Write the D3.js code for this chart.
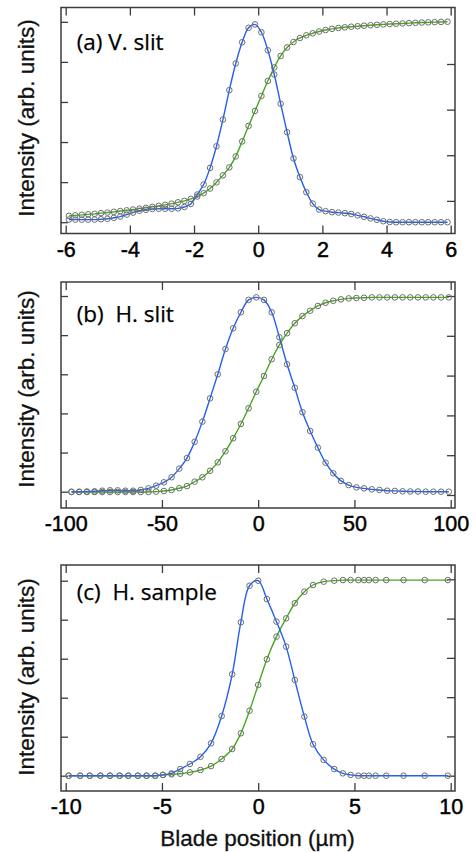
<!DOCTYPE html>
<html>
<head>
<meta charset="utf-8">
<script src="https://cdn.jsdelivr.net/npm/d3@7"></script>
<style>
  body { margin: 0; background: #fff; }
  .tick text { font-family: "Liberation Sans", Arial, sans-serif; }
</style>
</head>
<body>
<svg id="chart" width="476" height="852"></svg>
<script>
// (a) V. slit -- blade position in um, blue = derivative (left axis), green = integrated (right axis)
const xA = [-5.9, -5.7, -5.5, -5.3, -5.1, -4.9, -4.7, -4.5, -4.3, -4.1,
  -3.9, -3.7, -3.5, -3.3, -3.1, -2.9, -2.7, -2.5, -2.3, -2.1,
  -1.9, -1.7, -1.5, -1.3, -1.1, -0.9, -0.7, -0.5, -0.3, -0.1,
  0.1, 0.3, 0.5, 0.7, 0.9, 1.1, 1.3, 1.5, 1.7, 1.9,
  2.1, 2.3, 2.5, 2.7, 2.9, 3.1, 3.3, 3.5, 3.7, 3.9,
  4.1, 4.3, 4.5, 4.7, 4.9, 5.1, 5.3, 5.5, 5.7, 5.9]
const blueA = [0.013, 0.013, 0.013, 0.013, 0.013, 0.015, 0.017, 0.022, 0.028, 0.038,
  0.048, 0.057, 0.062, 0.066, 0.067, 0.067, 0.067, 0.069, 0.076, 0.091,
  0.138, 0.188, 0.271, 0.379, 0.512, 0.659, 0.792, 0.898, 0.970, 0.987,
  0.948, 0.858, 0.737, 0.591, 0.449, 0.318, 0.225, 0.150, 0.093, 0.063,
  0.055, 0.050, 0.048, 0.045, 0.041, 0.034, 0.027, 0.019, 0.012, 0.005,
  0.001, 0, 0, 0, 0, 0, 0, 0, 0, 0]
const greenA = [0.672, 0.683, 0.694, 0.705, 0.716, 0.731, 0.744, 0.760, 0.777, 0.793,
  0.810, 0.830, 0.847, 0.869, 0.891, 0.913, 0.939, 0.968, 1.001, 1.044,
  1.095, 1.169, 1.270, 1.406, 1.559, 1.734, 1.975, 2.303, 2.643, 2.971,
  3.300, 3.628, 3.924, 4.176, 4.362, 4.482, 4.570, 4.629, 4.673, 4.712,
  4.745, 4.771, 4.789, 4.804, 4.817, 4.828, 4.839, 4.850, 4.859, 4.868,
  4.876, 4.883, 4.889, 4.896, 4.903, 4.909, 4.913, 4.918, 4.922, 4.927]

// (b) H. slit
const xB = [-97, -93, -89, -85, -81, -77, -73, -69, -65, -61,
  -57, -53, -49, -45, -41, -37, -33, -29, -25, -21,
  -17, -13, -9, -5, -1, 3, 7, 11, 15, 19,
  23, 27, 31, 35, 39, 43, 47, 51, 55, 59,
  63, 67, 71, 75, 79, 83, 87, 91, 95, 99]
const blueB = [0, 0, 0.001, 0.002, 0.005, 0.007, 0.007, 0.005, 0.005, 0.009,
  0.017, 0.031, 0.048, 0.074, 0.118, 0.172, 0.255, 0.358, 0.477, 0.600,
  0.729, 0.835, 0.917, 0.980, 0.993, 0.980, 0.917, 0.789, 0.651, 0.531,
  0.406, 0.310, 0.225, 0.148, 0.094, 0.055, 0.034, 0.022, 0.017, 0.012,
  0.009, 0.005, 0.004, 0.002, 0.001, 0.001, 0, 0, 0, 0]
const greenB = [0.015, 0.015, 0.015, 0.015, 0.015, 0.015, 0.015, 0.015, 0.015, 0.015,
  0.015, 0.017, 0.020, 0.025, 0.034, 0.045, 0.067, 0.089, 0.122, 0.164,
  0.220, 0.285, 0.357, 0.436, 0.519, 0.598, 0.682, 0.754, 0.813, 0.863,
  0.899, 0.926, 0.950, 0.966, 0.976, 0.983, 0.988, 0.990, 0.991, 0.993,
  0.993, 0.993, 0.993, 0.993, 0.993, 0.993, 0.993, 0.993, 0.993, 0.993]

// (c) H. sample
const xC = [-9.85, -9.25, -8.75, -8.2, -7.7, -7.2, -6.75, -6.25, -5.8, -5.35,
  -4.95, -4.5, -4.05, -3.55, -3.0, -2.45, -1.9, -1.35, -0.9, -0.45,
  0.0, 0.45, 0.95, 1.45, 1.9, 2.4, 2.85, 3.4, 3.95, 4.4,
  4.8, 5.2, 5.5, 5.75, 6.1, 6.65, 7.55, 8.65, 9.85]
const blueC = [0, 0, 0, 0, 0, 0, 0, 0, 0, 0,
  0.004, 0.012, 0.034, 0.060, 0.097, 0.166, 0.306, 0.520, 0.787, 0.974,
  1.0, 0.906, 0.790, 0.662, 0.491, 0.303, 0.161, 0.081, 0.034, 0.012,
  0.004, 0, 0, 0, 0, 0, 0, 0, 0]
const greenC = [0, 0, 0, 0, 0, 0, 0, 0, 0, 0,
  0.004, 0.007, 0.010, 0.017, 0.029, 0.049, 0.085, 0.136, 0.216, 0.331,
  0.462, 0.593, 0.708, 0.801, 0.878, 0.937, 0.971, 0.988, 0.993, 0.996,
  0.996, 0.996, 0.996, 0.996, 0.996, 0.996, 0.996, 0.996, 0.996]

const xTicksA = [-6, -4, -2, 0, 2, 4, 6]
const xTicksB = [-100, -50, 0, 50, 100]
const xTicksC = [-10, -5, 0, 5, 10]
const leftTicks = [0, 0.2, 0.4, 0.6, 0.8, 1]

const BLUE = '#2160f2'
const GREEN = '#46a81e'
const INK = '#3c3c3c'

const svg = d3.select('#chart')
const left = 61
const width = 394
const height = 226

const panels = [
  { label: '(a) V. slit', x: xA, blue: blueA, green: greenA, xDomain: [-6, 6], xTicks: xTicksA,
    top: 7.5, yLeft: [214.7, 14.3], yRight: { domain: [0, 4], range: [239, 56.5], ticks: [1, 2, 3, 4] },
    labelY: 42.5, tickPad: 8.5, titleY: 118 },
  { label: '(b)  H. slit', x: xB, blue: blueB, green: greenB, xDomain: [-100, 100], xTicks: xTicksB,
    top: 282, yLeft: [209.7, 14], yRight: { domain: [0, 1], range: [213, 14], ticks: leftTicks },
    labelY: 39.7, tickPad: 7.5, titleY: 389 },
  { label: '(c)  H. sample', x: xC, blue: blueC, green: greenC, xDomain: [-10, 10], xTicks: xTicksC,
    top: 565, yLeft: [210.7, 15.7], yRight: { domain: [0, 1], range: [210.7, 14.3], ticks: leftTicks },
    labelY: 35, tickPad: 7.5, titleY: 677 }
]

panels.forEach(function (p) {
  const g = svg.append('g').attr('transform', 'translate(' + left + ',' + p.top + ')')

  const x = d3.scaleLinear().domain(p.xDomain).range([4.7, width - 4.3])
  const yL = d3.scaleLinear().domain([0, 1]).range(p.yLeft)
  const yR = d3.scaleLinear().domain(p.yRight.domain).range(p.yRight.range)

  // ticks pointing inward
  const bottom = g.append('g').attr('transform', 'translate(0,' + height + ')')
    .call(d3.axisBottom(x).tickValues(p.xTicks).tickSizeInner(-8).tickSizeOuter(0)
      .tickPadding(p.tickPad).tickFormat(function (d) { return String(d) }))
  const top = g.append('g')
    .call(d3.axisTop(x).tickValues(p.xTicks).tickSizeInner(-8).tickSizeOuter(0).tickFormat(''))
  const leftAx = g.append('g')
    .call(d3.axisLeft(yL).tickValues(leftTicks).tickSizeInner(-7).tickSizeOuter(0).tickFormat(''))
  const rightAx = g.append('g').attr('transform', 'translate(' + width + ',0)')
    .call(d3.axisRight(yR).tickValues(p.yRight.ticks).tickSizeInner(-8).tickSizeOuter(0).tickFormat(''))

  ;[bottom, top, leftAx, rightAx].forEach(function (a) {
    a.select('.domain').remove()
    a.selectAll('.tick line').attr('stroke', INK).attr('stroke-width', 1.3)
  })
  bottom.selectAll('.tick text')
    .attr('fill', '#000')
    .attr('stroke', '#000').attr('stroke-width', 0.45)
    .style('font-size', '21.5px')

  // frame
  g.append('rect')
    .attr('width', width).attr('height', height)
    .attr('fill', 'none').attr('stroke', INK).attr('stroke-width', 1.5)

  const pts = p.x.map(function (xv, i) { return { x: xv, b: p.blue[i], gr: p.green[i] } })

  const lineB = d3.line().x(function (d) { return x(d.x) }).y(function (d) { return yL(d.b) })
    .curve(d3.curveCatmullRom.alpha(0.5))
  const lineG = d3.line().x(function (d) { return x(d.x) }).y(function (d) { return yR(d.gr) })
    .curve(d3.curveCatmullRom.alpha(0.5))

  g.append('path').datum(pts).attr('d', lineG)
    .attr('fill', 'none').attr('stroke', GREEN).attr('stroke-width', 1.4)
  g.append('path').datum(pts).attr('d', lineB)
    .attr('fill', 'none').attr('stroke', BLUE).attr('stroke-width', 1.4)

  g.append('g').selectAll('circle.g').data(pts).enter().append('circle')
    .attr('cx', function (d) { return x(d.x) })
    .attr('cy', function (d) { return yR(d.gr) })
    .attr('r', 2.8)
    .attr('fill', 'none').attr('stroke', '#6e6e6e').attr('stroke-width', 1)
  g.append('g').selectAll('circle.b').data(pts).enter().append('circle')
    .attr('cx', function (d) { return x(d.x) })
    .attr('cy', function (d) { return yL(d.b) })
    .attr('r', 2.8)
    .attr('fill', 'none').attr('stroke', '#6e6e6e').attr('stroke-width', 1)

  // panel label
  g.append('text')
    .attr('x', 15.7).attr('y', p.labelY)
    .style('font-family', '"Open Sans", "Noto Sans", sans-serif')
    .style('font-size', '22.5px')
    .attr('fill', '#000')
    .attr('stroke', '#000').attr('stroke-width', 0.25)
    .attr('xml:space', 'preserve')
    .style('white-space', 'pre')
    .text(p.label)

  // y title
  svg.append('text')
    .attr('transform', 'translate(34,' + p.titleY + ') rotate(-90)')
    .attr('text-anchor', 'middle')
    .style('font-family', '"Liberation Sans", Arial, sans-serif')
    .style('font-size', '22.5px')
    .attr('fill', '#111')
    .attr('stroke', '#111').attr('stroke-width', 0.3)
    .text('Intensity (arb. units)')
})

svg.append('text')
  .attr('x', 257.5).attr('y', 846)
  .attr('text-anchor', 'middle')
  .style('font-family', '"Liberation Sans", Arial, sans-serif')
  .style('font-size', '22.5px')
  .attr('fill', '#111')
  .attr('stroke', '#111').attr('stroke-width', 0.3)
  .text('Blade position (\u00b5m)')
</script>
</body>
</html>
